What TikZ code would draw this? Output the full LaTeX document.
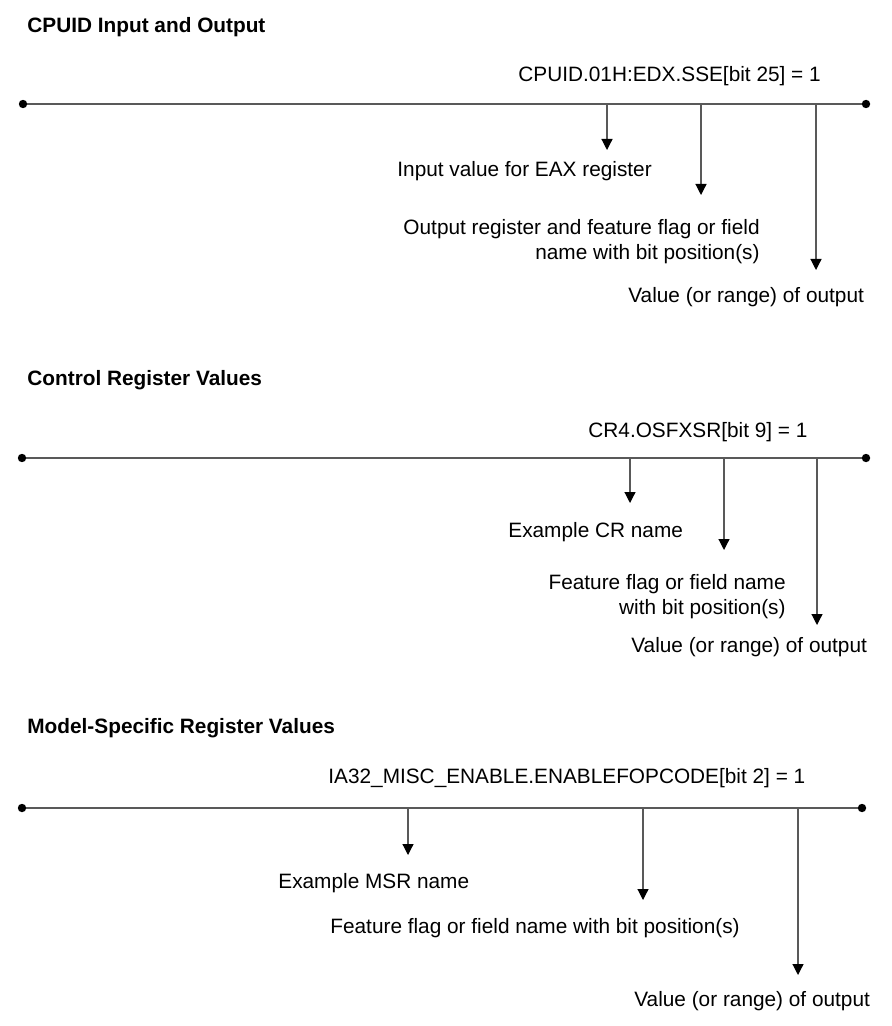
\documentclass[tikz,border=0pt]{standalone}
\usepackage{fontspec}
\setmainfont{Liberation Sans}
\usetikzlibrary{arrows.meta}
\tikzset{>={Triangle[width=5.5pt,length=5.5pt,color=black]}}
\colorlet{lineColor}{black!65}

\begin{document}
\begin{tikzpicture}[x=0.5pt,y=-0.5pt,line cap=round,
  every node/.style={inner sep=0pt,font=\fontsize{10.4}{12.5}\selectfont},
  heading/.style={anchor=base west,font=\fontsize{10.4}{12.5}\selectfont\bfseries},
  field/.style={anchor=base west},
  rule/.style={lineColor,line width=0.6pt},
  pointer/.style={lineColor,line width=0.6pt,->}]

  \useasboundingbox (0,0) rectangle (892,1026);

  % CPUID
  \node [heading] (cpuidTitle) at (27,33) {CPUID Input and Output};
  \node [field] (cpuidExpr) at (518,82) {CPUID.01H:EDX.SSE[bit 25] = 1};

  \coordinate (cpuidL) at (23,104);
  \coordinate (cpuidR) at (866,104);
  \draw [rule] (cpuidL) -- (cpuidR);
  \fill (cpuidL) circle (2.1pt);
  \fill (cpuidR) circle (2.1pt);

  \coordinate (cpuidA) at (607,104);
  \coordinate (cpuidAtip) at (607,150);
  \coordinate (cpuidB) at (701,104);
  \coordinate (cpuidBtip) at (701,195);
  \coordinate (cpuidC) at (816,104);
  \coordinate (cpuidCtip) at (816,270);
  \draw [pointer] (cpuidA) -- (cpuidAtip);
  \draw [pointer] (cpuidB) -- (cpuidBtip);
  \draw [pointer] (cpuidC) -- (cpuidCtip);

  \node [field] (cpuidIn) at (397,177) {Input value for EAX register};
  \node [anchor=base east,align=right] (cpuidOut) at (760,260)
    {Output register and feature flag or field\\name with bit position(s)};
  \node [field] (cpuidVal) at (628,302) {Value (or range) of output};

  % control registers
  \node [heading] (crTitle) at (27,385) {Control Register Values};
  \node [field] (crExpr) at (588,437) {CR4.OSFXSR[bit 9] = 1};

  \coordinate (crL) at (22,458);
  \coordinate (crR) at (866,458);
  \draw [rule] (crL) -- (crR);
  \fill (crL) circle (2.1pt);
  \fill (crR) circle (2.1pt);

  \coordinate (crA) at (630,458);
  \coordinate (crAtip) at (630,503);
  \coordinate (crB) at (724,458);
  \coordinate (crBtip) at (724,550);
  \coordinate (crC) at (817,458);
  \coordinate (crCtip) at (817,625);
  \draw [pointer] (crA) -- (crAtip);
  \draw [pointer] (crB) -- (crBtip);
  \draw [pointer] (crC) -- (crCtip);

  \node [field] (crName) at (508,537) {Example CR name};
  \node [anchor=base east,align=right] (crFlag) at (786,614)
    {Feature flag or field name\\with bit position(s)};
  \node [field] (crVal) at (631,652) {Value (or range) of output};

  % MSRs
  \node [heading] (msrTitle) at (27,733) {Model-Specific Register Values};
  \node [field] (msrExpr) at (328,783) {IA32\_MISC\_ENABLE.ENABLEFOPCODE[bit 2] = 1};

  \coordinate (msrL) at (22,808);
  \coordinate (msrR) at (862,808);
  \draw [rule] (msrL) -- (msrR);
  \fill (msrL) circle (2.1pt);
  \fill (msrR) circle (2.1pt);

  \coordinate (msrA) at (408,808);
  \coordinate (msrAtip) at (408,855);
  \coordinate (msrB) at (643,808);
  \coordinate (msrBtip) at (643,900);
  \coordinate (msrC) at (798,808);
  \coordinate (msrCtip) at (798,975);
  \draw [pointer] (msrA) -- (msrAtip);
  \draw [pointer] (msrB) -- (msrBtip);
  \draw [pointer] (msrC) -- (msrCtip);

  \node [field] (msrName) at (278,888) {Example MSR name};
  \node [field] (msrFlag) at (330,933) {Feature flag or field name with bit position(s)};
  \node [field] (msrVal) at (634,1006) {Value (or range) of output};

\end{tikzpicture}
\end{document}
